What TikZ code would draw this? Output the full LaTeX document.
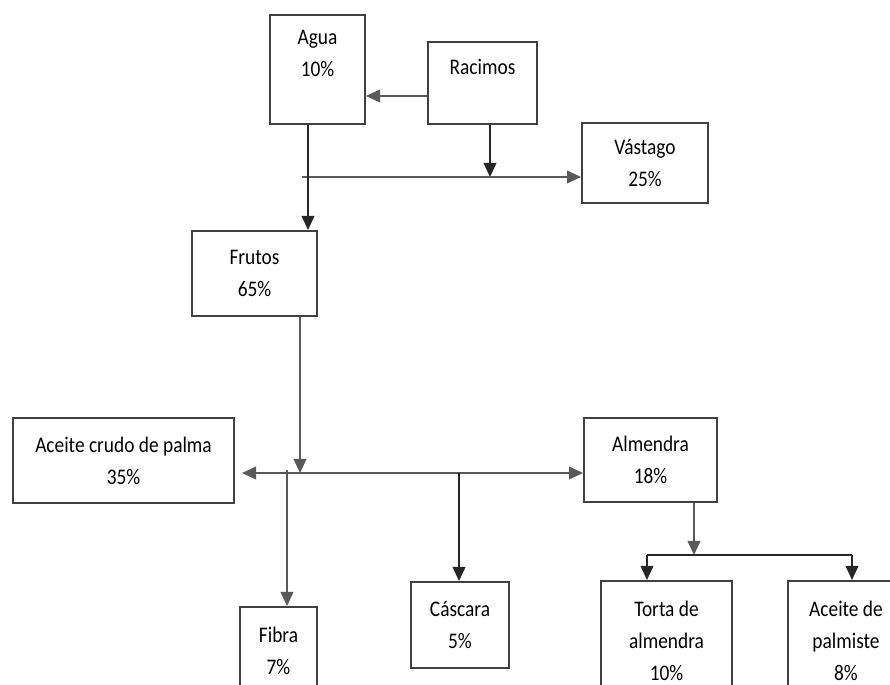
\documentclass[tikz,border=0pt]{standalone}
\usepackage{fontspec}
\newfontfamily\boxfont{Carlito}[FakeStretch=0.87]
\usepackage{tikz}
\usetikzlibrary{positioning, arrows.meta, calc}
\newdimen\pxu
\pxu=0.03cm
\tikzset{
  pbox/.style 2 args={draw=black!75, line width=2\pxu, align=center, inner sep=0pt,
    minimum width=#1\pxu, minimum height=#2\pxu, text=black,
    font={\boxfont\fontsize{19pt}{27.3pt}\selectfont}},
  tip/.tip={Triangle[length=0.42cm, width=0.38cm]},
  arr/.style={-tip, line width=1.7\pxu, draw=black!65},
  arrk/.style={arr, draw=black!85},
  lnk/.style={line width=1.7\pxu, draw=black!85},
}
\begin{document}
\begin{tikzpicture}[x=0.03cm, y=-0.03cm]
\useasboundingbox (0,0) rectangle (890,685);
% boxes
\node[pbox={95}{109}] (agua) at (317.5,69.5) {Agua\\10\%\\~};
\node[pbox={109}{82}] (racimos) at (482.5,83) {Racimos\\~};
\node[pbox={126}{80}] (vastago) at (645,163) {Vástago\\25\%};
\node[pbox={125}{85}] (frutos) at (254.5,273.5) {Frutos\\65\%};
\node[pbox={221}{85}] (crudo) at (123.5,460.5) {Aceite crudo de palma\\35\%};
\node[pbox={133}{84}] (almendra) at (650.5,460) {Almendra\\18\%};
\node[pbox={77}{88}] (fibra) at (278.5,651) {Fibra\\7\%};
\node[pbox={98}{86}] (cascara) at (460,625) {Cáscara\\5\%};
\node[pbox={131}{119}] (torta) at (666.5,640.5) {Torta de\\almendra\\10\%};
\node[pbox={116}{119}] (palmiste) at (846,640.5) {Aceite de\\palmiste\\8\%};
% junctions
\coordinate (jv) at (490,177);
\coordinate (jvs) at (302,177);
\coordinate (jf) at (300,473);
\coordinate (jfi) at (287,470);
\coordinate (jc) at (459,473);
\coordinate (ja) at (694,555);
\coordinate (jt) at (647,555);
\coordinate (jp) at (852,555);
% connectors
\draw[arr] (racimos.west |- 0,96) -- (agua.east |- 0,96);
\draw[arrk] (racimos.south -| jv) -- (jv);
\draw[arr] (jvs) -- (vastago.west |- jvs);
\draw[arrk] (agua.south -| 308,0) -- (frutos.north -| 308,0);
\draw[arr] (frutos.south -| jf) -- (jf);
\draw[arr, tip-tip, shorten <=0.21cm] (crudo.east |- jf) -- (almendra.west |- jf);
\draw[arr] (jfi) -- (fibra.north -| jfi);
\draw[arrk] (jc) -- (cascara.north -| jc);
\draw[arr] (almendra.south -| ja) -- (ja);
\draw[lnk] (jt) -- (jp);
\draw[arrk] (jt) -- (torta.north -| jt);
\draw[arrk] (jp) -- (palmiste.north -| jp);
\end{tikzpicture}
\end{document}
